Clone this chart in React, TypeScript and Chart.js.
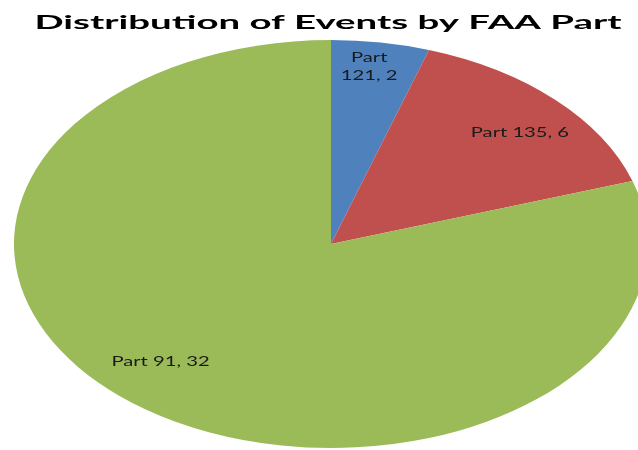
import React, { useEffect, useRef } from "react";
import { Chart, registerables } from "chart.js";

Chart.register(...registerables);

const TITLE = "Distribution of Events by FAA Part";
const categories = ["Part 121", "Part 135", "Part 91"];
const values = [2, 6, 32];
const colors = ["#4F81BD", "#C0504D", "#9BBB59"];

// horizontal stretch of the ellipse (width radius / height radius)
const STRETCH = 317 / 204;

const ellipsePlugin = {
  id: "ellipse",
  beforeDatasetsDraw(chart: any) {
    const arc = chart.getDatasetMeta(0).data[0];
    const { x, y } = arc;
    const ctx = chart.ctx;
    ctx.save();
    ctx.translate(x, y);
    ctx.scale(STRETCH, 1);
    ctx.translate(-x, -y);
  },
  afterDatasetsDraw(chart: any, _args: any, opts: any) {
    const ctx = chart.ctx;
    ctx.restore();
    const meta = chart.getDatasetMeta(0);
    const placement = opts.placement;
    ctx.save();
    ctx.fillStyle = "#1a1a1a";
    ctx.font = opts.labelFont;
    ctx.textAlign = "center";
    ctx.textBaseline = "middle";
    meta.data.forEach((arc: any, i: number) => {
      const p = placement[i];
      const mid = (arc.startAngle + arc.endAngle) / 2 + (p.da * Math.PI) / 180;
      const r = arc.outerRadius * p.rf;
      const px = arc.x + Math.cos(mid) * r * STRETCH;
      const py = arc.y + Math.sin(mid) * r;
      const text = `${categories[i]}, ${values[i]}`;
      let lines = [text];
      if (p.wrap) {
        const parts = categories[i].split(" ");
        lines = [parts[0], `${parts.slice(1).join(" ")}, ${values[i]}`];
      }
      const lh = opts.lineHeight;
      lines.forEach((ln, k) => {
        const oy = (k - (lines.length - 1) / 2) * lh;
        ctx.save();
        ctx.translate(px, py + oy);
        ctx.scale(opts.textStretch, 1);
        ctx.fillText(ln, 0, 0);
        ctx.restore();
      });
    });
    ctx.restore();
  },
  afterDraw(chart: any, _args: any, opts: any) {
    const ctx = chart.ctx;
    const arc = chart.getDatasetMeta(0).data[0];
    ctx.save();
    ctx.font = opts.titleFont;
    ctx.fillStyle = "#000";
    ctx.textAlign = "center";
    ctx.textBaseline = "alphabetic";
    const w = ctx.measureText(TITLE).width;
    const sx = opts.titleWidth / w;
    ctx.translate(arc.x - 3, opts.titleBaseline);
    ctx.scale(sx, 1);
    ctx.fillText(TITLE, 0, 0);
    ctx.restore();
  },
};

export default function App() {
  const ref = useRef<HTMLCanvasElement | null>(null);
  useEffect(() => {
    document.body.style.margin = "0";
    const canvas = ref.current!;
    const chart = new Chart(canvas, {
      type: "pie",
      data: {
        labels: categories,
        datasets: [
          {
            data: values,
            backgroundColor: colors,
            borderWidth: 0,
          },
        ],
      },
      options: {
        responsive: false,
        animation: false,
        layout: { padding: { top: 40, bottom: 2, left: 24, right: 0 } },
        plugins: {
          legend: { display: false },
          tooltip: { enabled: false },
          title: { display: false },
          ellipse: {
            titleFont: "bold 19px Lato",
            titleWidth: 587,
            titleBaseline: 29,
            labelFont: "13px Lato",
            textStretch: 1.554,
            lineHeight: 18,
            placement: [
              { rf: 0.876, da: -1.1, wrap: true },
              { rf: 0.807, da: 2.6, wrap: false },
              { rf: 0.79, da: 6.9, wrap: false },
            ],
          },
        } as any,
      },
      plugins: [ellipsePlugin],
    });
    return () => chart.destroy();
  }, []);
  return <canvas ref={ref} width={638} height={450} style={{ display: "block" }} />;
}
